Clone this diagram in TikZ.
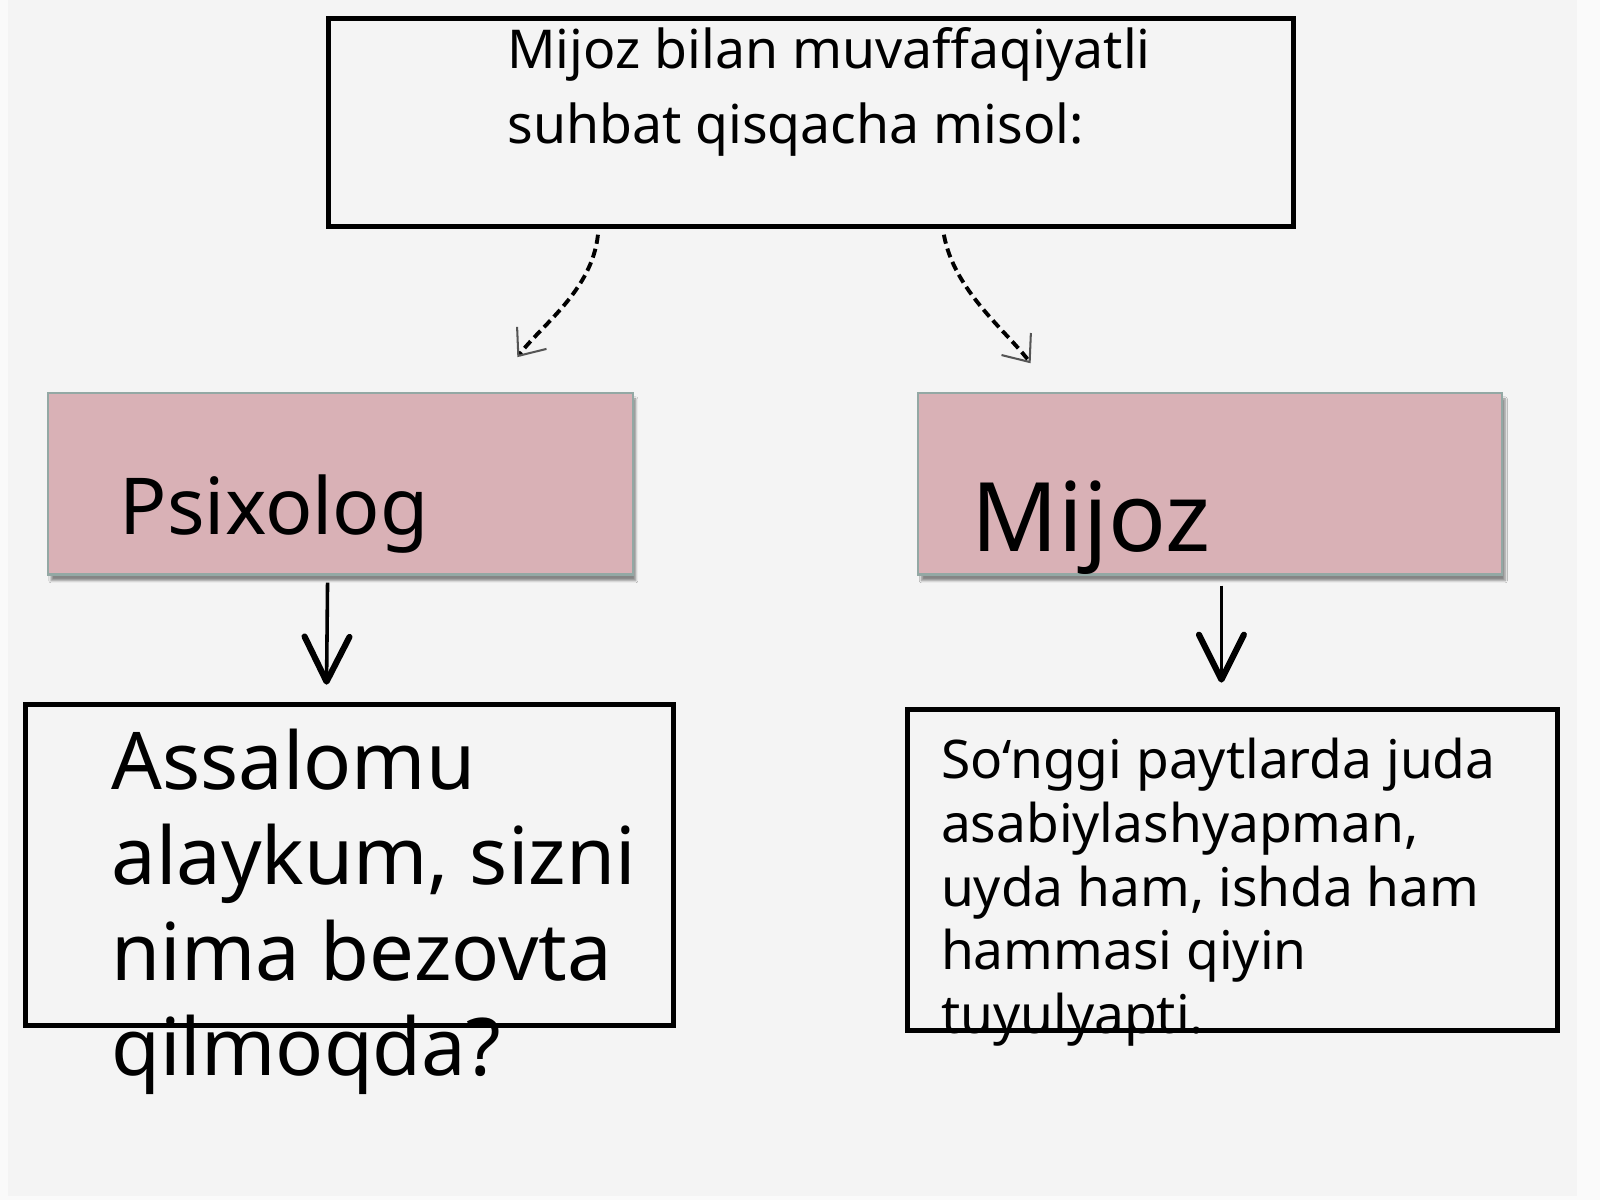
\documentclass[tikz,border=0pt]{standalone}
\usepackage{fontspec}
\setmainfont{Noto Sans}
\usetikzlibrary{arrows.meta,shadows.blur}
\definecolor{bg}{HTML}{F4F4F4}
\definecolor{edge}{HTML}{FAFAFA}
\definecolor{pinkfill}{HTML}{D9B1B6}
\definecolor{pinkline}{HTML}{93A8A4}
\definecolor{tipgray}{HTML}{555555}
\begin{document}
\begin{tikzpicture}[x=1pt,y=-1pt,
  frame/.style={draw=black, line width=5pt, inner sep=0pt},
  pinkbox/.style={draw=pinkline, line width=2pt, fill=pinkfill, inner sep=0pt,
    blur shadow={shadow xshift=3pt, shadow yshift=-6pt, shadow opacity=45, shadow blur steps=6}},
  txt/.style={anchor=base west, inner sep=0pt, align=left, text=black},
  dasharrow/.style={draw=black, line width=3.8pt, dash pattern=on 9pt off 5pt,
    -{Straight Barb[length=22pt,width=36pt,line width=2pt,color=tipgray]}},
  solidarrow/.style={draw=black, line width=3.5pt,
    -{Straight Barb[length=44pt,width=44pt,line width=6pt,round]}}
]
\fill[edge] (0,0) rectangle (1568,1176);
\fill[bg] (8,0) rectangle (1545,1172);
\useasboundingbox (0,0) rectangle (1568,1176);

% boxes
\node[frame, minimum width=946pt, minimum height=204pt] (top) at (795,120) {};
\node[pinkbox, minimum width=573pt, minimum height=178pt] (psix) at (333.5,474) {};
\node[pinkbox, minimum width=572pt, minimum height=178pt] (mij) at (1186,474) {};
\node[frame, minimum width=635pt, minimum height=315pt] (lbox) at (342.5,847.5) {};
\node[frame, minimum width=637pt, minimum height=315pt] (rbox) at (1207.5,852.5) {};

% texts (anchor = baseline of the last line)
\node[txt, font=\fontsize{52.5}{74}\selectfont] (toptext) at (497,141)
  {Mijoz bilan muvaffaqiyatli\\suhbat qisqacha misol:};
\node[txt, font=\fontsize{77}{92}\selectfont] (psixtext) at (117,524) {Psixolog};
\node[txt, font=\fontsize{94}{112}\selectfont] (mijtext) at (952,540) {Mijoz};
\node[txt, font=\fontsize{78}{93.5}\selectfont] (ltext) at (109,1054)
  {Assalomu\\alaykum, sizni\\nima bezovta\\qilmoqda?};
\node[txt, font=\fontsize{52.2}{62.5}\selectfont] (rtext) at (922,1013)
  {So‘nggi paytlarda juda\\asabiylashyapman,\\uyda ham, ishda ham\\hammasi qiyin\\tuyulyapti.};

% connectors
\coordinate (d1s) at (586,230);
\coordinate (d1e) at (507,350);
\coordinate (d2s) at (925,230);
\coordinate (d2e) at (1010,356);
\draw[dasharrow] (d1s) .. controls (580,285) and (531,318) .. (d1e);
\draw[dasharrow] (d2s) .. controls (935,285) and (986,324) .. (d2e);

\coordinate (a1s) at (321,571);
\coordinate (a1e) at (320,671);
\coordinate (a2s) at (1197,574);
\coordinate (a2e) at (1197,669);
\draw[solidarrow] (a1s) -- (a1e);
\draw[solidarrow] (a2s) -- (a2e);
\end{tikzpicture}
\end{document}
